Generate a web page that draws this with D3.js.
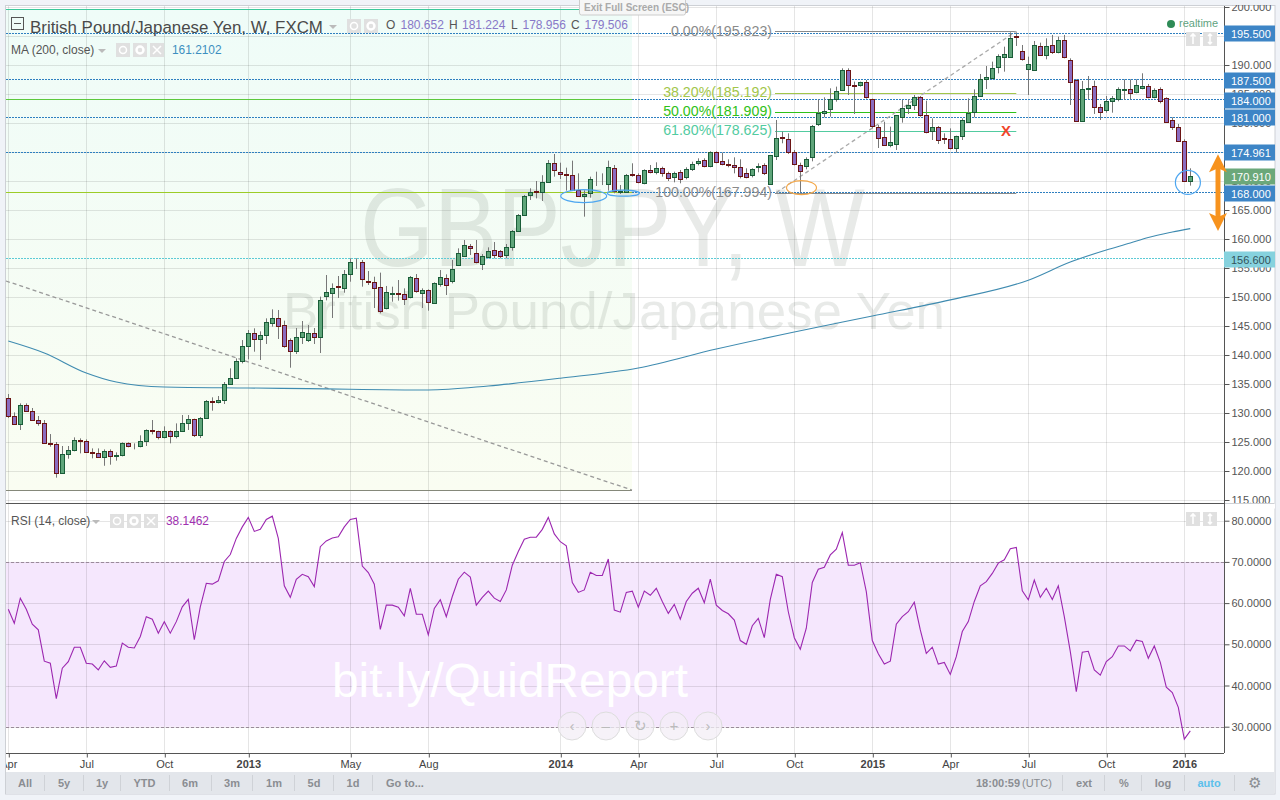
<!DOCTYPE html>
<html><head><meta charset="utf-8">
<script src="https://cdn.jsdelivr.net/npm/d3@7"></script>
<style>
html,body{margin:0;padding:0;background:#f0f3f8;overflow:hidden}
svg{display:block}
text{font-family:"Liberation Sans",Arial,sans-serif}
</style></head><body>
<div id="chart"></div>
<script>
const opens=[132.52,129.42,128.04,131.32,130.28,128.73,128.21,124.77,124.59,119.59,
122.87,123.56,125.28,125.11,123.21,123.04,122.35,123.39,122.52,122.7,
124.77,124.25,124.25,125.11,127.0,126.83,125.8,126.83,125.97,126.83,
128.21,128.9,126.15,129.08,132.01,131.84,132.18,134.94,135.97,138.85,
141.49,143.73,142.7,143.39,145.46,146.32,145.11,142.53,140.57,143.04,
142.47,143.73,143.04,150.11,150.63,151.84,151.49,153.91,156.32,155.98,
152.7,152.53,151.66,148.04,150.46,150.63,150.46,149.94,153.22,150.63,
151.15,148.9,152.18,153.22,152.7,155.46,157.01,158.73,157.53,155.63,
156.84,158.04,157.87,157.18,158.56,161.32,164.14,167.47,168.22,168.05,
169.77,173.05,171.61,171.15,170.98,168.51,167.3,167.88,170.12,170.12,
169.43,172.19,168.16,168.05,171.15,170.98,169.6,171.84,171.5,172.19,
171.32,170.63,171.5,170.63,172.01,173.05,173.57,172.53,174.94,173.39,
172.88,172.7,172.36,171.32,170.98,172.36,172.7,169.43,174.26,177.53,
177.19,174.94,172.7,172.53,174.08,179.71,181.67,182.47,184.08,185.58,
189.08,186.5,186.5,187.01,184.08,179.37,177.53,176.15,176.32,180.98,
182.53,183.05,184.43,181.44,178.51,179.25,177.36,177.19,175.58,177.64,
180.12,181.78,184.6,187.53,187.64,189.54,191.32,191.32,194.94,192.36,
189.25,189.08,193.22,191.67,193.39,192.19,194.26,190.81,187.36,180.23,
185.81,186.32,182.7,182.13,183.74,184.08,185.63,185.81,185.29,185.98,
186.32,184.43,185.81,184.26,180.46,179.26,176.84,170.1];
const highs=[133.27,130.11,131.66,131.66,130.86,129.48,128.79,126.37,125.0,124.31,
124.31,125.8,125.63,125.45,123.9,123.9,123.73,123.73,123.21,124.94,
124.94,124.77,126.15,127.18,128.79,126.95,127.7,127.0,128.21,129.65,
129.65,129.02,129.31,132.24,132.7,132.93,135.34,137.7,139.42,142.58,
144.31,144.6,144.08,146.32,147.87,147.76,145.92,142.87,144.65,145.86,
145.17,144.65,150.06,153.79,152.35,153.62,154.65,156.67,156.67,156.38,
154.48,153.5,154.2,151.9,151.78,152.93,151.49,153.62,153.96,151.49,
151.32,152.53,154.65,153.91,156.38,158.39,159.83,159.14,159.83,157.41,
158.56,159.48,158.1,159.14,161.55,164.3,167.59,168.74,170.0,171.0,
173.62,174.66,173.16,172.3,173.51,171.32,168.4,170.75,171.61,171.32,
173.51,172.76,169.31,171.21,173.05,171.32,172.01,172.76,173.22,172.47,
171.61,171.61,171.9,172.36,173.33,173.91,173.91,175.12,175.12,174.89,
173.74,174.08,173.74,172.19,172.19,173.05,173.05,174.49,180.52,178.51,
178.22,175.35,173.16,174.08,179.66,184.08,184.43,185.98,186.27,189.43,
189.43,187.13,187.13,187.41,184.2,179.66,180.23,179.37,181.38,183.97,
184.08,184.83,184.66,183.85,180.8,179.48,178.22,179.08,177.82,180.8,
184.25,185.8,188.45,189.83,190.58,191.84,193.16,195.63,195.63,193.45,
191.44,194.14,193.85,194.6,195.18,194.89,195.18,191.15,187.53,187.24,
188.1,187.3,183.28,184.66,184.66,186.15,187.53,187.53,187.53,188.57,
186.73,185.98,186.15,184.43,180.98,179.83,177.19,172.19];
const lows=[129.13,128.04,127.07,130.28,128.73,127.81,124.77,124.19,118.85,119.59,
122.12,123.39,123.04,123.21,122.18,122.35,120.9,121.09,121.78,122.52,
124.08,123.73,124.08,124.31,126.32,125.45,125.63,124.77,125.63,126.72,
127.07,125.86,125.69,129.08,130.4,131.66,131.55,134.94,135.97,138.56,
139.25,140.57,139.14,141.9,144.88,142.76,141.26,137.81,140.17,141.9,
142.24,141.9,140.34,149.42,146.38,149.83,150.74,152.64,154.83,151.78,
152.07,148.1,147.18,147.87,149.19,149.37,148.62,149.77,150.74,148.1,
147.64,148.9,151.78,150.34,152.35,155.34,156.95,157.24,155.8,154.65,
156.66,156.66,156.66,156.66,157.99,161.32,164.14,166.73,167.0,166.55,
169.77,170.75,170.35,168.34,168.34,167.47,163.85,167.13,169.14,169.3,
168.34,167.88,167.76,168.05,170.75,169.6,169.43,171.32,171.15,170.75,
170.0,169.77,169.6,170.29,171.73,172.7,172.36,172.36,173.05,172.7,
172.36,171.32,170.46,170.46,170.63,171.5,171.03,169.43,173.62,176.5,
174.66,172.7,168.05,172.01,173.39,179.48,180.98,181.09,183.68,185.58,
184.83,181.55,186.27,184.2,179.08,175.69,176.04,175.81,175.35,180.06,
181.55,182.24,181.09,178.22,177.07,176.38,176.38,175.46,174.89,177.07,
180.06,180.98,184.6,185.86,187.53,188.56,188.85,191.32,193.28,190.75,
184.83,189.0,191.55,190.98,191.9,192.01,191.15,183.11,180.23,180.23,
184.08,181.56,180.52,181.78,181.78,183.74,183.97,184.08,185.12,185.81,
184.26,184.26,183.39,180.06,178.8,176.73,169.94,169.2];
const closes=[129.36,128.04,131.32,130.28,128.73,128.21,124.77,124.59,119.59,122.87,
123.56,125.28,125.11,123.21,123.04,122.35,123.39,122.52,122.7,124.77,
124.25,124.25,125.11,127.0,126.83,125.8,126.83,125.97,126.83,128.21,
128.9,126.15,129.08,132.01,131.84,132.18,134.94,135.97,138.9,141.49,
143.73,142.7,143.39,145.63,146.32,144.88,141.43,140.57,143.04,143.9,
143.73,143.04,149.42,150.8,151.49,151.66,153.91,155.98,156.36,153.04,
152.53,151.49,147.53,150.8,150.63,150.46,149.6,153.39,150.97,151.15,
149.08,152.35,153.39,152.01,154.77,157.53,158.91,158.39,155.98,157.01,
157.87,157.18,157.01,158.56,161.32,164.14,167.36,168.05,167.99,169.77,
173.05,171.78,171.27,170.98,168.34,167.47,167.7,170.29,170.12,170.12,
172.36,168.22,168.34,170.98,170.98,169.77,171.84,171.5,172.19,171.32,
170.46,171.32,170.29,172.01,172.88,173.39,172.53,174.94,173.22,172.88,
172.7,172.36,170.8,170.63,172.01,172.53,171.32,174.43,177.36,177.36,
174.94,172.88,171.67,173.74,179.43,181.67,182.01,184.2,185.46,189.08,
186.5,186.32,187.01,184.43,179.37,177.53,176.21,176.67,181.32,182.53,
183.05,184.43,181.32,178.56,179.25,176.96,177.19,175.58,177.7,180.46,
181.67,184.6,187.53,187.87,189.43,191.5,191.84,194.6,194.77,190.98,
190.12,193.39,191.67,193.22,192.19,194.26,191.32,187.01,180.23,185.81,
185.98,182.7,181.78,183.74,184.26,185.81,185.81,185.12,186.5,186.32,
184.43,185.63,183.74,180.12,179.26,176.84,169.94,170.91];
const rsiValues=[58.5,55.1,61.2,58.5,54.9,53.5,45.9,45.4,36.8,44.2,
45.8,49.3,49.3,45.4,45.2,43.8,46.0,44.4,44.7,50.3,
49.3,49.1,51.9,56.7,56.1,52.7,55.5,52.7,55.5,59.1,
60.9,51.1,59.1,64.8,64.6,65.4,70.1,71.8,75.7,78.5,
80.8,77.4,77.9,80.3,81.1,75.7,64.2,61.4,65.8,67.0,
66.4,64.0,73.7,75.1,75.8,76.1,78.5,80.3,80.6,69.0,
67.4,64.6,53.6,59.5,59.5,59.0,56.9,63.6,57.3,57.3,
52.3,58.7,60.8,56.7,61.6,65.8,67.5,66.3,59.5,61.4,
62.9,61.2,60.4,63.2,69.2,72.5,75.5,76.0,76.0,77.9,
80.8,76.8,74.9,73.9,65.0,62.6,63.2,67.5,66.7,66.7,
70.7,58.3,57.8,62.6,62.9,59.0,62.9,61.9,63.6,60.4,
57.5,59.7,56.1,60.4,62.4,63.6,60.1,65.8,59.5,58.2,
57.4,55.9,50.9,50.0,54.5,56.3,51.6,60.9,67.0,66.4,
57.9,51.6,48.8,53.9,65.0,68.2,68.7,71.7,73.1,77.1,
69.2,69.2,69.8,62.8,50.9,47.7,45.2,45.9,54.9,56.7,
57.9,60.2,53.5,47.8,49.3,45.2,45.6,42.7,47.0,53.1,
55.5,60.4,64.2,65.2,67.2,69.7,70.5,73.2,73.5,63.0,
60.8,65.6,61.4,63.6,60.9,64.2,56.7,48.2,38.5,48.1,
48.3,43.8,42.5,45.8,47.0,49.6,49.6,48.4,51.0,50.7,
46.6,49.6,45.6,39.6,38.3,34.7,27.0,29.0];
const maWeeks=[0,6,13,18,26,40,50,70,80,92,105,118,131,144,157,170,177,183,187,190,194,197];
const maValues=[142.4,140.34,136.9,135.34,134.48,134.31,134.2,133.97,134.66,136.0,137.76,141.03,143.97,146.72,149.5,152.9,156.03,158.1,159.3,160.26,161.2,161.8];
const priceTicks=[115,120,125,130,135,140,145,150,155,160,165,170,175,180,185,190,195,200];
const rsiTicks=[30,40,50,60,70,80];
const timeWeeks=[0,13,26,40,57,70,92,105,118,131,144,157,170,183,196];
const timeLabels=["Apr","Jul","Oct","2013","May","Aug","2014","Apr","Jul","Oct","2015","Apr","Jul","Oct","2016"];
const boxedBlue=[195.5,187.5,184,181,174.961,168];
const boxedTeal=156.6;
const lastClose=170.91;
const fibLevels=[195.823,185.192,181.909,178.625,167.994];
const fibNames=["0.00%","38.20%","50.00%","61.80%","100.00%"];
const rangeLeft=["All","5y","1y","YTD","6m","3m","1m","5d","1d","Go to..."];
const rangeRight=["ext","%","log","auto"];

const W=1280,H=800;
const L=6,R=1224,TOP=6,PB=503,AXB=753;
const shadeEnd=632;
const svg=d3.select("#chart").append("svg").attr("width",W).attr("height",H);
const x=d3.scaleLinear().domain([0,197]).range([8.3,1190.3]);
const y=d3.scaleLinear().domain([200,115]).range([7,500]);
const yR=d3.scaleLinear().domain([80,30]).range([520.7,726.7]);
const snap=v=>Math.round(v)+0.5;
const floorSnap=v=>Math.floor(v)+0.5;

// frame
svg.append("rect").attr("width",W).attr("height",H).attr("fill","#f0f3f8");
svg.append("rect").attr("x",5.5).attr("y",5.5).attr("width",1269.5).attr("height",788.5).attr("fill","#fff").attr("stroke","#cdd0d5");
const defs=svg.append("defs");
const lg=defs.append("linearGradient").attr("id","shade").attr("x1",0).attr("y1",0).attr("x2",0).attr("y2",1);
lg.append("stop").attr("offset","0%").attr("stop-color","#effcf8");
lg.append("stop").attr("offset","100%").attr("stop-color","#fafdf2");
defs.append("clipPath").attr("id","plot").append("rect").attr("x",L).attr("y",TOP).attr("width",R-L).attr("height",AXB-TOP);
defs.append("clipPath").attr("id","tclip").append("rect").attr("x",L).attr("y",AXB).attr("width",W-L).attr("height",19);

// shaded regions
svg.append("rect").attr("x",L).attr("y",10).attr("width",shadeEnd-L).attr("height",480).attr("fill","url(#shade)");
svg.append("rect").attr("x",L).attr("y",yR(70)).attr("width",R-L).attr("height",yR(30)-yR(70)).attr("fill","#f5e7fd");

// grid
const grid=svg.append("g").attr("stroke","#000").attr("stroke-opacity",.1).attr("fill","none");
priceTicks.forEach(p=>grid.append("line").attr("x1",L).attr("x2",R).attr("y1",snap(y(p))).attr("y2",snap(y(p))));
rsiTicks.forEach(p=>grid.append("line").attr("x1",L).attr("x2",R).attr("y1",snap(yR(p))).attr("y2",snap(yR(p))));
timeWeeks.forEach(w=>grid.append("line").attr("x1",snap(x(w))).attr("x2",snap(x(w))).attr("y1",TOP).attr("y2",AXB));

// watermarks
svg.append("text").attr("x",360).attr("y",266).attr("font-size",112).attr("fill","#5c6b5c").attr("fill-opacity",.14).attr("textLength",505).attr("lengthAdjust","spacingAndGlyphs").text("GBPJPY, W");
svg.append("text").attr("x",283).attr("y",329).attr("font-size",52).attr("fill","#5c6b5c").attr("fill-opacity",.14).attr("textLength",662).attr("lengthAdjust","spacingAndGlyphs").text("British Pound/Japanese Yen");
svg.append("text").attr("x",332).attr("y",697).attr("font-size",48).attr("fill","#fff").attr("textLength",356).attr("lengthAdjust","spacingAndGlyphs").text("bit.ly/QuidReport");

// top accent + bottom rule of shaded drawing
svg.append("line").attr("x1",L).attr("x2",shadeEnd).attr("y1",9.5).attr("y2",9.5).attr("stroke","#3cc89a");
const longDiag=[152.76,116.72];
svg.append("line").attr("x1",L).attr("x2",shadeEnd).attr("y1",floorSnap(y(longDiag[1]))).attr("y2",floorSnap(y(longDiag[1]))).attr("stroke","#85887a");

// horizontal levels
const dotted=(v,col,x1=L)=>svg.append("line").attr("x1",x1).attr("x2",R).attr("y1",floorSnap(y(v))).attr("y2",floorSnap(y(v))).attr("stroke",col).attr("stroke-dasharray","2,1");
boxedBlue.forEach(v=>{
  if(v===184||v===168){
    svg.append("line").attr("x1",L).attr("x2",shadeEnd).attr("y1",floorSnap(y(v))).attr("y2",floorSnap(y(v))).attr("stroke",v===184?"#5cc83c":"#9ccc28");
    dotted(v,"#2e7fc0",shadeEnd);
  } else dotted(v,"#2e7fc0");
});
dotted(boxedTeal,"#5ccbd6");

// long falling dashed trend line
svg.append("line").attr("x1",L).attr("y1",y(longDiag[0])).attr("x2",shadeEnd).attr("y2",y(longDiag[1]))
 .attr("stroke","#999").attr("stroke-width",1.3).attr("stroke-dasharray","4,3");

// Fibonacci
const fibCol=["#8a8a8a","#a2c64a","#2fc118","#52cba0","#8a8a8a"];
const fibStartW=128,fibEndW=168;
fibLevels.forEach((v,i)=>{
  svg.append("line").attr("x1",775).attr("x2",x(fibEndW)).attr("y1",snap(y(v))).attr("y2",snap(y(v))).attr("stroke",fibCol[i]);
  svg.append("text").attr("x",772).attr("y",y(v)+4.5).attr("text-anchor","end").attr("font-size",14.2).attr("fill",fibCol[i]).text(`${fibNames[i]}(${v.toFixed(3)})`);
});
svg.append("line").attr("x1",x(fibStartW)).attr("y1",y(fibLevels[4])).attr("x2",x(fibEndW)).attr("y2",y(fibLevels[0]))
 .attr("stroke","#aaa").attr("stroke-width",1.3).attr("stroke-dasharray","4,3");

// MA
svg.append("path").datum(maWeeks.map((w,i)=>[w,maValues[i]])).attr("fill","none").attr("stroke","#3f8bb0").attr("stroke-width",1.1)
 .attr("d",d3.line().x(d=>x(d[0])).y(d=>y(d[1])).curve(d3.curveMonotoneX));

// candles
const candles=svg.append("g").attr("clip-path","url(#plot)");
const idx=d3.range(opens.length);
candles.selectAll("line").data(idx).join("line")
 .attr("x1",i=>snap(x(i))).attr("x2",i=>snap(x(i))).attr("y1",i=>y(highs[i])).attr("y2",i=>y(lows[i])).attr("stroke","#777");
candles.selectAll("rect").data(idx).join("rect")
 .attr("x",i=>snap(x(i))-2).attr("width",4)
 .attr("y",i=>snap(y(Math.max(opens[i],closes[i]))))
 .attr("height",i=>Math.max(0,Math.round(Math.abs(y(opens[i])-y(closes[i])))))
 .attr("fill",i=>closes[i]>opens[i]?"#5fa57a":"#8b6cc0")
 .attr("stroke",i=>closes[i]>opens[i]?"#1a5c38":"#6b1414").attr("stroke-width",1);

// RSI levels and line
[70,30].forEach(v=>svg.append("line").attr("x1",L).attr("x2",R).attr("y1",snap(yR(v))).attr("y2",snap(yR(v))).attr("stroke","#9a8a9a").attr("stroke-dasharray","3,2"));
svg.append("path").datum(rsiValues).attr("fill","none").attr("stroke","#9c27b0").attr("stroke-width",1.1)
 .attr("d",d3.line().x((d,i)=>x(i)).y(d=>yR(d)));

// annotations
const ell=(w,p,rx,ry,col)=>svg.append("ellipse").attr("cx",x(w)).attr("cy",y(p)).attr("rx",rx).attr("ry",ry).attr("fill","none").attr("stroke",col).attr("stroke-width",1.2);
ell(95.9,167.4,23,6.5,"#4da6f0");
ell(102.5,167.9,16,3,"#4da6f0");
ell(132.2,168.85,15,7,"#f4a84a");
ell(196.6,169.75,12.5,12,"#4da6f0");
svg.append("text").attr("x",x(166.3)).attr("y",y(178.625)+5).attr("text-anchor","middle").attr("font-size",15).attr("font-weight","bold").attr("fill","#f0452a").text("X");

// pane divider
svg.append("line").attr("x1",L).attr("x2",R).attr("y1",503.5).attr("y2",503.5).attr("stroke","#555");

// axes
function styleAxis(g){
  g.select(".domain").attr("stroke","#555");
  g.selectAll(".tick line").attr("stroke","#555");
  g.selectAll(".tick text").attr("fill","#555").attr("font-size",11).attr("font-family",'"Liberation Sans",Arial,sans-serif');
}
svg.append("g").attr("transform",`translate(${R+.5},0)`).call(d3.axisRight(y).tickValues(priceTicks).tickFormat(d3.format(".3f")).tickSize(5).tickPadding(2)).call(styleAxis)
 .select(".domain").attr("d",`M0,${TOP}V${PB}`);
svg.append("rect").attr("x",R+1).attr("y",PB+.5).attr("width",50).attr("height",5).attr("fill","#fff");
svg.append("line").attr("x1",R).attr("x2",1274.5).attr("y1",PB+.5).attr("y2",PB+.5).attr("stroke","#cdd0d5");
svg.append("g").attr("transform",`translate(${R+.5},0)`).call(d3.axisRight(yR).tickValues(rsiTicks).tickFormat(d3.format(".4f")).tickSize(5).tickPadding(2)).call(styleAxis)
 .select(".domain").attr("d",`M0,${PB}V${AXB}`);
const txWrap=svg.append("g").attr("clip-path","url(#tclip)");
const tx=txWrap.append("g").attr("transform",`translate(0,${AXB+.5})`)
 .call(d3.axisBottom(x).tickValues(timeWeeks).tickFormat((d,i)=>timeLabels[i]).tickSize(4).tickPadding(3)).call(styleAxis);
tx.select(".domain").attr("d",`M${L},0H${R}`);
tx.selectAll(".tick line").attr("x1",.5).attr("x2",.5);
tx.selectAll(".tick text").attr("font-weight",(d,i)=>/^\d/.test(timeLabels[i])?"bold":"normal").attr("fill","#444");

// price boxes
const box=(v,fill,txt,label)=>{
  const c=Math.round(y(v))+.5;
  svg.append("rect").attr("x",R).attr("y",c-8).attr("width",51).attr("height",16).attr("fill",fill);
  svg.append("text").attr("x",1231).attr("y",c+4).attr("font-size",11).attr("fill",txt).text(label);
};
boxedBlue.forEach(v=>box(v,"#3d85c6","#fff",v.toFixed(3)));
box(boxedTeal,"#86d2de","#33525a",boxedTeal.toFixed(3));
box(lastClose,"#6ba87a","#fff",lastClose.toFixed(3));

// orange double arrow, above the price boxes
const arrow=svg.append("g").attr("fill","#f7931e").attr("stroke","none");
const arrowX=1218;
const arrowTop=y(174.6),arrowBot=y(161.4);
arrow.append("rect").attr("x",arrowX-2.5).attr("y",arrowTop+10).attr("width",5).attr("height",arrowBot-arrowTop-20);
arrow.append("path").attr("d",`M${arrowX},${arrowTop}L${arrowX+9},${arrowTop+18}L${arrowX},${arrowTop+14}L${arrowX-9},${arrowTop+18}Z`);
arrow.append("path").attr("d",`M${arrowX},${arrowBot}L${arrowX+9},${arrowBot-18}L${arrowX},${arrowBot-14}L${arrowX-9},${arrowBot-18}Z`);

// outer page strip over the clipped top label
svg.append("rect").attr("x",0).attr("y",0).attr("width",W).attr("height",5).attr("fill","#f0f3f8");

// header
const T=(xp,yp,s,size,col,extra={})=>{const t=svg.append("text").attr("x",xp).attr("y",yp).attr("font-size",size).attr("fill",col).text(s);Object.entries(extra).forEach(([k,v])=>t.attr(k,v));return t;};
svg.append("rect").attr("x",11.5).attr("y",17.5).attr("width",12).attr("height",12).attr("fill","none").attr("stroke","#555");
svg.append("line").attr("x1",14).attr("x2",21).attr("y1",23.5).attr("y2",23.5).attr("stroke","#555");
T(30,33,"British Pound/Japanese Yen, W, FXCM",16.9,"#4a4a4a");
const caret=(xp,yp)=>svg.append("path").attr("d",`M${xp},${yp}h8l-4,4z`).attr("fill","#bbb");
caret(329,25);caret(98,49);caret(92,520);
const ohlcLbl=["O","H","L","C"],ohlcVal=["180.652","181.224","178.956","179.506"],ohlcX=[386,449,511,571],ohlcValX=[400.5,462,522.5,584.5];
ohlcLbl.forEach((l,i)=>{T(ohlcX[i],28.5,l,12,"#555");T(ohlcValX[i],28.5,ohlcVal[i],12,"#8878c8");});
T(11,54,"MA (200, close)",12,"#555");
T(172,54,"161.2102",11.9,"#3d8fc0");
T(11,525,"RSI (14, close)",12,"#555");
T(166,525,"38.1462",11.9,"#a030b0");
const btn=(xp,yp,kind)=>{
  svg.append("rect").attr("x",xp).attr("y",yp).attr("width",14).attr("height",14).attr("fill","#e0e0e0");
  const c=[xp+7,yp+7];
  if(kind==="eye"){svg.append("circle").attr("cx",c[0]).attr("cy",c[1]).attr("r",3.5).attr("fill","none").attr("stroke","#fff").attr("stroke-width",1.5);}
  if(kind==="gear"){svg.append("circle").attr("cx",c[0]).attr("cy",c[1]).attr("r",3.5).attr("fill","none").attr("stroke","#fff").attr("stroke-width",2.4);}
  if(kind==="x"){svg.append("path").attr("d",`M${c[0]-4},${c[1]-4}L${c[0]+4},${c[1]+4}M${c[0]+4},${c[1]-4}L${c[0]-4},${c[1]+4}`).attr("stroke","#fff").attr("stroke-width",1.5);}
  if(kind==="up"){svg.append("path").attr("d",`M${c[0]},${c[1]-5}V${c[1]+5}M${c[0]-2.5},${c[1]-2.5}L${c[0]},${c[1]-5}L${c[0]+2.5},${c[1]-2.5}`).attr("stroke","#fff").attr("stroke-width",1.6).attr("fill","none");}
  if(kind==="ud"){svg.append("path").attr("d",`M${c[0]},${c[1]-5}V${c[1]+5}M${c[0]-2},${c[1]-3}L${c[0]},${c[1]-5}L${c[0]+2},${c[1]-3}M${c[0]-2},${c[1]+3}L${c[0]},${c[1]+5}L${c[0]+2},${c[1]+3}`).attr("stroke","#fff").attr("stroke-width",1.5).attr("fill","none");}
};
btn(347,19,"eye");btn(364,19,"gear");
btn(116,43,"eye");btn(133,43,"gear");btn(150,43,"x");
btn(110,514,"eye");btn(127,514,"gear");btn(144,514,"x");
btn(1186,32,"up");btn(1203,32,"ud");
btn(1186,512,"up");btn(1203,512,"ud");
svg.append("circle").attr("cx",1171).attr("cy",24).attr("r",4).attr("fill","#2e8b57");
T(1179,27,"realtime",11,"#5fa37f");

// exit full screen tag
svg.append("rect").attr("x",579.5).attr("y",-2).attr("width",106).attr("height",17).attr("rx",2).attr("fill","#f6f6f6").attr("stroke","#ccc");
T(584,11,"Exit Full Screen (ESC)",10,"#aaa",{"font-weight":"bold"});

// zoom buttons
const navX=[572,606,640,674,708],navSym=["‹","–","↻","+","›"];
navX.forEach((xp,i)=>{
  svg.append("circle").attr("cx",xp).attr("cy",726).attr("r",14).attr("fill","#f3eef6").attr("fill-opacity",.75).attr("stroke","#ddd");
  svg.append("text").attr("x",xp).attr("y",731).attr("text-anchor","middle").attr("font-size",15).attr("fill","#bbb").text(navSym[i]);
});

// toolbar
svg.append("rect").attr("x",6).attr("y",772).attr("width",1268.5).attr("height",22).attr("fill","#e3e6eb");
const lCenters=[25,64,102,144.5,190,232,274,314,353,405];
rangeLeft.forEach((s,i)=>svg.append("text").attr("x",lCenters[i]).attr("y",787).attr("text-anchor","middle").attr("font-size",11).attr("font-weight","bold").attr("fill","#8a8d92").text(s));
[44.5,83,120,169,211,252.5,294.5,333.5,372.5,1062,1104.5,1141.5,1184.5,1234.5].forEach(s=>svg.append("line").attr("x1",Math.floor(s)+.5).attr("x2",Math.floor(s)+.5).attr("y1",775).attr("y2",791).attr("stroke","#cfd2d7"));
T(976,787,"18:00:59",11,"#8a8d92",{"font-weight":"bold"});
T(1022,787,"(UTC)",11,"#8a8d92");
const rCenters=[1084,1124,1163,1209];
rangeRight.forEach((s,i)=>svg.append("text").attr("x",rCenters[i]).attr("y",787).attr("text-anchor","middle").attr("font-size",11).attr("font-weight","bold").attr("fill",s==="auto"?"#5bc0eb":"#8a8d92").text(s));
svg.append("text").attr("x",1254).attr("y",788).attr("text-anchor","middle").attr("font-size",15).attr("fill","#8a8d92").text("⚙");
</script>
</body></html>
